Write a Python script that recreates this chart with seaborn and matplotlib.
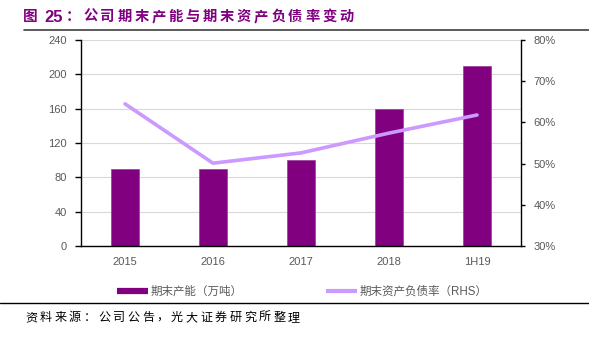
import matplotlib
matplotlib.use("Agg")
import matplotlib.pyplot as plt
import seaborn as sns
import numpy as np
import pandas as pd
from matplotlib.lines import Line2D

categories = ["2015", "2016", "2017", "2018", "1H19"]
capacity = [90, 90, 100, 160, 210]
debt_ratio = [64.5, 50.1, 52.6, 57.4, 61.8]
bar_label = "期末产能（万吨）"
line_label = "期末资产负债率（RHS）"
title_body = "公司期末产能与期末资产负债率变动"
source = "资料来源：公司公告，光大证券研究所整理"

sns.set_theme(style="white")
plt.rcParams['font.family'] = ['Liberation Sans', 'Noto Sans CJK SC', 'DejaVu Sans']

BAR = "#800080"
LINE = "#CC99FF"
TICK = "#595959"
W, H = 589, 337

fig = plt.figure(figsize=(W / 100, H / 100), dpi=100)
ax = fig.add_axes([81 / W, 1 - 246 / H, 440 / W, 206 / H])

df = pd.DataFrame({"cat": categories, "cap": capacity})
sns.barplot(data=df, x="cat", y="cap", ax=ax, color=BAR, width=0.31,
            saturation=1, edgecolor="#9a3a9a", linewidth=0.5)
ax.set_xlim(-0.5, 4.5)
ax.set_ylim(0, 240)
ax.set_yticks(np.arange(0, 241, 40))
ax.set_xlabel("")
ax.set_ylabel("")
ax.yaxis.grid(True, color="#d9d9d9", linewidth=0.8)
ax.set_axisbelow(True)
for s in ["top", "right"]:
    ax.spines[s].set_visible(False)
for s in ["left", "bottom"]:
    ax.spines[s].set_color("black")
    ax.spines[s].set_linewidth(1.0)
ax.set_xticks(np.arange(len(categories)))
ax.set_xticklabels(categories)
ax.tick_params(axis="x", length=0, labelsize=8, labelcolor=TICK, pad=8)
ax.set_xticks(np.arange(-0.5, 4.6, 1), minor=True)
ax.tick_params(axis="x", which="minor", length=4, direction="out", color="black", width=1)
ax.tick_params(axis="y", length=4, direction="out", color="black", width=1,
               labelsize=8, labelcolor=TICK, left=True, pad=6)

ax2 = ax.twinx()
sns.lineplot(x=np.arange(len(categories)), y=debt_ratio, ax=ax2, color=LINE,
             linewidth=2.6, solid_capstyle="round")
ax2.set_ylim(30, 80)
ax2.set_yticks(np.arange(30, 81, 10))
ax2.set_yticklabels([f"{v}%" for v in range(30, 81, 10)])
for s in ["top", "left", "bottom"]:
    ax2.spines[s].set_visible(False)
ax2.spines["right"].set_color("black")
ax2.spines["right"].set_linewidth(1.0)
ax2.tick_params(axis="y", length=3, direction="out", color="black", width=1,
                labelsize=8, labelcolor=TICK, right=True, pad=6)
ax2.set_xlim(-0.5, 4.5)

handles = [Line2D([0], [0], color=BAR, linewidth=4.5, solid_capstyle="butt"),
           Line2D([0], [0], color=LINE, linewidth=3, solid_capstyle="butt")]
fig.legend(handles, [bar_label, line_label], loc="center", bbox_to_anchor=(302 / W, 1 - 292 / H),
           ncol=2, frameon=False, fontsize=8.3, labelcolor=TICK, handlelength=2.7,
           handletextpad=0.25, columnspacing=7.2)

# title with letter spacing
ty = 1 - 17 / H
fig.text(23 / W, ty, "图", fontsize=10.5, fontweight="bold", color=BAR, va="center", ha="left")
fig.text(44 / W, ty, "25", fontsize=12, fontweight="bold", color=BAR, va="center", ha="left")
fig.text(66 / W, ty, "：", fontsize=10.5, fontweight="bold", color=BAR, va="center", ha="left")
for i, ch in enumerate(title_body):
    fig.text((83 + i * 17.1) / W, ty, ch, fontsize=10.3, fontweight="bold",
             color=BAR, va="center", ha="left")

fig.add_artist(Line2D([24 / W, 1], [1 - 30 / H, 1 - 30 / H], color="#404040", linewidth=1.2))
fig.add_artist(Line2D([0, 1], [1 - 303 / H, 1 - 303 / H], color="black", linewidth=1.0))
for i, ch in enumerate(source):
    fig.text((25 + i * 14.6) / W, 1 - 318 / H, ch, fontsize=8.7, color="black",
             va="center", ha="left")

fig.savefig("out.png", dpi=100)
